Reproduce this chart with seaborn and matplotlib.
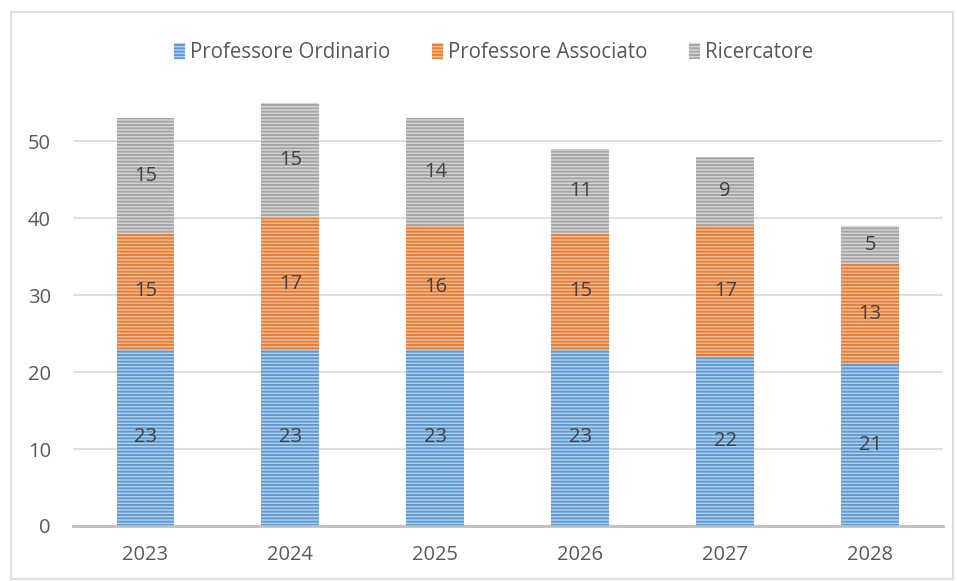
import pandas as pd
import matplotlib.pyplot as plt
import seaborn as sns
from matplotlib.patches import Patch, Rectangle

# Data
years = ["2023", "2024", "2025", "2026", "2027", "2028"]
ordinario = [23, 23, 23, 23, 22, 21]
associato = [15, 17, 16, 15, 17, 13]
ricercatore = [15, 15, 14, 11, 9, 5]

series_names = ["Professore Ordinario", "Professore Associato", "Ricercatore"]
hatch_colors = ["#5B9BD5", "#ED7D31", "#A5A5A5"]
face_colors = ["#B4D0EE", "#F8C09A", "#D6D6D6"]

df = pd.DataFrame({
    "year": years,
    series_names[0]: ordinario,
    series_names[1]: associato,
    series_names[2]: ricercatore,
})

sns.set_style("white")
plt.rcParams["font.family"] = ["Open Sans", "DejaVu Sans"]
plt.rcParams["hatch.linewidth"] = 1.4

fig = plt.figure(figsize=(9.57, 5.81), dpi=100)
ax = fig.add_axes([0.0763, 0.0947, 0.9087, 0.755])

# cumulative totals, draw tallest first so the lower layers sit on top
cum = df[series_names].cumsum(axis=1)
for i in reversed(range(len(series_names))):
    sns.barplot(
        x=df["year"], y=cum[series_names[i]], ax=ax, width=0.4,
        color=face_colors[i], edgecolor=hatch_colors[i], linewidth=0,
        hatch="-----", zorder=3,
    )

# segment labels
bottoms = [0] * len(years)
for name in series_names:
    for j, v in enumerate(df[name]):
        ax.text(j, bottoms[j] + v / 2, str(v), ha="center", va="center",
                fontsize=14.5, color="#404040", zorder=5)
        bottoms[j] += v

ax.set_ylim(0, 57)
ax.set_xlim(-0.5, len(years) - 0.5)
ax.set_yticks([0, 10, 20, 30, 40, 50])
ax.yaxis.grid(True, color="#D9D9D9", linewidth=1.2, zorder=0)
ax.set_axisbelow(True)
ax.set_xlabel("")
ax.set_ylabel("")
ax.tick_params(axis="both", length=0, labelsize=14.5, labelcolor="#595959")
ax.tick_params(axis="x", pad=14)
ax.tick_params(axis="y", pad=16)
for side in ["top", "right", "left"]:
    ax.spines[side].set_visible(False)
ax.spines["bottom"].set_color("#BFBFBF")
ax.spines["bottom"].set_linewidth(2)
ax.spines["bottom"].set_zorder(4)

handles = [Patch(facecolor=face_colors[i], edgecolor=hatch_colors[i], linewidth=0,
                 hatch="-----", label=series_names[i]) for i in range(3)]
fig.legend(handles=handles, loc="center", bbox_to_anchor=(0.516, 0.91), ncol=3,
           frameon=False, fontsize=14.8, handlelength=0.55, handleheight=0.8,
           handletextpad=0.25, columnspacing=2.0, labelcolor="#595959")

# chart border
fig.patches.append(Rectangle((0.011, 0.004), 0.985, 0.975, transform=fig.transFigure,
                             fill=False, edgecolor="#D9D9D9", linewidth=1.2))

fig.savefig("out.png", dpi=100)
